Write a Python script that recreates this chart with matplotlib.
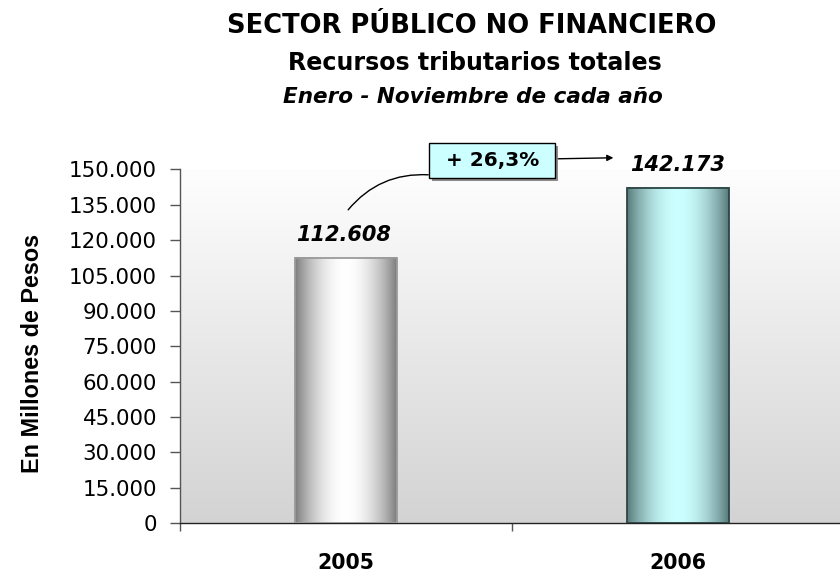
import numpy as np
import matplotlib
matplotlib.use("Agg")
import matplotlib.pyplot as plt
from matplotlib.patches import Rectangle
from matplotlib.colors import LinearSegmentedColormap, to_rgb

# ---- data ----
categories = ["2005", "2006"]
values = [112608, 142173]
value_labels = ["112.608", "142.173"]
growth_label = "+ 26,3%"
yticks = [0, 15000, 30000, 45000, 60000, 75000, 90000, 105000, 120000, 135000, 150000]
ytick_labels = ["0", "15.000", "30.000", "45.000", "60.000", "75.000", "90.000",
                "105.000", "120.000", "135.000", "150.000"]
title_lines = ["SECTOR PÚBLICO NO FINANCIERO", "Recursos tributarios totales",
               "Enero - Noviembre de cada año"]
ylabel = "En Millones de Pesos"

plt.rcParams['font.family'] = ['DejaVu Sans']

W, H = 840, 576
fig = plt.figure(figsize=(W / 100, H / 100), dpi=100)
fig.patch.set_facecolor("white")

ax = fig.add_axes([180 / W, (H - 523) / H, 664 / W, 353.5 / H])
ax.set_xlim(0.5, 2.5)
ax.set_ylim(0, 150000)
ax.set_facecolor("white")

# background gradient of plot area (white at top, light grey at bottom)
grad = np.linspace(0, 1, 256).reshape(-1, 1)
bg_cmap = LinearSegmentedColormap.from_list("bg", ["#fefefe", "#d3d3d3"])
ax.imshow(grad, cmap=bg_cmap, aspect="auto", extent=[0.5, 2.5, 0, 150000],
          origin="upper", zorder=0, interpolation="bicubic")

# bars
x = np.arange(1, len(categories) + 1)
bar_w = 0.305
edge_cols = ["#9a9a9a", "#2c4545"]
grad_cols = [("#7a7a7a", "#ffffff"), ("#567676", "#ccffff")]
bars = ax.bar(x, values, width=bar_w, facecolor="none", edgecolor="none", zorder=3)
t = np.linspace(0, 1, 300)
prof = np.sin(np.pi * t) ** 0.85
for b, (dark, light), ec in zip(bars, grad_cols, edge_cols):
    d = np.array(to_rgb(dark)); l = np.array(to_rgb(light))
    img = d[None, None, :] + (l - d)[None, None, :] * prof[None, :, None]
    x0, w, h = b.get_x(), b.get_width(), b.get_height()
    ax.imshow(img, aspect="auto", extent=[x0, x0 + w, 0, h], zorder=2,
              interpolation="bilinear")
    ax.add_patch(Rectangle((x0, 0), w, h, facecolor="none", edgecolor=ec,
                           linewidth=1.3, zorder=4))

ax.set_xlim(0.5, 2.5)
ax.set_ylim(0, 150000)

# axes styling
for s in ["top", "right"]:
    ax.spines[s].set_visible(False)
ax.spines["left"].set_color("#555555")
ax.spines["bottom"].set_color("#222222")
ax.spines["left"].set_linewidth(1.0)
ax.spines["bottom"].set_linewidth(1.0)

ax.set_yticks(yticks)
ax.set_yticklabels(ytick_labels, fontsize=15.4)
ax.tick_params(axis="y", direction="out", length=7, width=1, color="#555555", pad=9.5)

ax.set_xticks(x)
ax.set_xticklabels(categories, fontsize=14.8, fontweight="bold")
ax.set_xticks([0.5, 1.5, 2.5], minor=True)
ax.tick_params(axis="x", which="major", length=0, pad=21.5)
ax.tick_params(axis="x", which="minor", direction="out", length=6, width=1, color="#555555")

fig.text(32.5 / W, 1 - 353.5 / H, ylabel, rotation=90, ha="center", va="center",
         fontsize=16.8, fontweight="bold", family=["Liberation Sans"])

# value labels
for xi, v, lab in zip(x, values, value_labels):
    ax.annotate(lab, (xi, v), xytext=(-1.5 if xi == 1 else 0, 9), textcoords="offset points",
                ha="center", va="bottom", fontsize=15, fontweight="bold",
                fontstyle="italic", zorder=6, annotation_clip=False)

# growth box with shadow
bx0, bx1 = 1.2507, 1.6305
by0, by1 = 146476, 161336
dxs = 3 / 331.7
dys = 3 / 353.5 * 150000
ax.add_patch(Rectangle((bx0 + dxs, by0 - dys), bx1 - bx0, by1 - by0, facecolor="#8c8c8c",
                       edgecolor="none", clip_on=False, zorder=6))
ax.add_patch(Rectangle((bx0, by0), bx1 - bx0, by1 - by0, facecolor="#ccffff",
                       edgecolor="black", linewidth=1.0, clip_on=False, zorder=7))
ax.text((bx0 + bx1) / 2, (by0 + by1) / 2, growth_label, ha="center", va="center",
        fontsize=14.4, fontweight="bold", zorder=8, clip_on=False)

# connector lines
ax.annotate("", xy=(1.8054, 154975), xytext=(1.6396, 154550),
            arrowprops=dict(arrowstyle="-|>", color="black", lw=1.0, mutation_scale=9,
                            shrinkA=0, shrinkB=0), annotation_clip=False, zorder=8)
ax.annotate("", xy=(1.2477, 147750), xytext=(1.0065, 132890),
            arrowprops=dict(arrowstyle="-", color="black", lw=1.0,
                            connectionstyle="arc3,rad=-0.25", shrinkA=0, shrinkB=0),
            annotation_clip=False, zorder=8)

# titles
fig.text(471.5 / W, 1 - 33 / H, title_lines[0], ha="center", va="baseline",
         fontsize=18.5, fontweight="bold")
fig.text(475 / W, 1 - 70 / H, title_lines[1], ha="center", va="baseline",
         fontsize=17.1, fontweight="bold")
fig.text(473 / W, 1 - 103 / H, title_lines[2], ha="center", va="baseline",
         fontsize=15.5, fontweight="bold", fontstyle="italic")

fig.savefig("out.png", dpi=100, facecolor="white")
